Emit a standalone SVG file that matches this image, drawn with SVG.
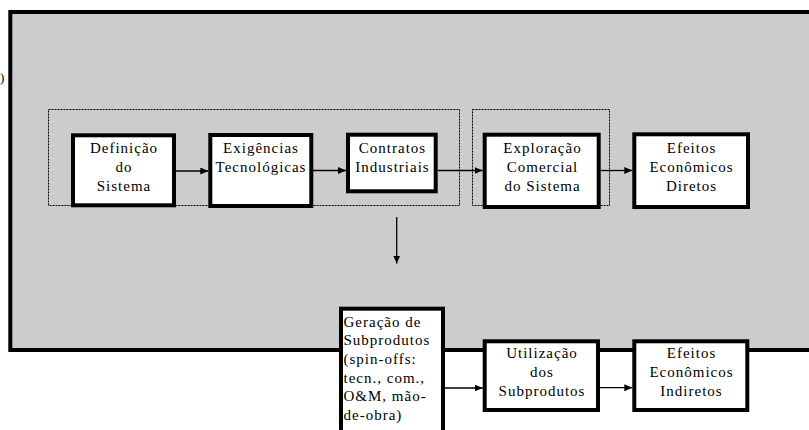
<svg xmlns="http://www.w3.org/2000/svg" width="809" height="430" viewBox="0 0 809 430">
<style>
.node rect{fill:#fff;stroke:#000;stroke-width:4}
text{font-family:'Liberation Serif','Times New Roman',serif;font-size:15px;fill:#000;letter-spacing:1px}
.c{text-anchor:middle}
.con line{stroke:#000;stroke-width:1.3}
.dot{fill:none;stroke:#000;stroke-width:1;stroke-dasharray:2 1}
</style>
<defs>
<marker id="ah" markerUnits="userSpaceOnUse" markerWidth="9" markerHeight="8" refX="8" refY="3.5" orient="auto">
<path d="M0,0 L8,3.5 L0,7 z" fill="#000"/>
</marker>
</defs>
<rect x="10.3" y="12" width="820" height="338" fill="#cccccc" stroke="#000" stroke-width="4"/>
<text x="0" y="82" style="font-size:13px">)</text>
<rect class="dot" x="48.5" y="109.5" width="411" height="96"/>
<rect class="dot" x="472.5" y="109.5" width="137" height="96"/>
<g id="connectors" class="con">
<line x1="176" y1="171" x2="208.3" y2="171" marker-end="url(#ah)"/>
<line x1="312" y1="170.5" x2="346" y2="170.5" marker-end="url(#ah)"/>
<line x1="438" y1="170.5" x2="482.7" y2="170.5" marker-end="url(#ah)"/>
<line x1="601" y1="170.5" x2="632.3" y2="170.5" marker-end="url(#ah)"/>
<line x1="396.7" y1="217" x2="396.7" y2="263.5" marker-end="url(#ah)"/>
<line x1="445" y1="388" x2="482.7" y2="388" marker-end="url(#ah)"/>
<line x1="600" y1="387.7" x2="632.3" y2="387.7" marker-end="url(#ah)"/>
</g>
<g id="n1" class="node"><rect x="73" y="135.3" width="101" height="70"/>
<text class="c" x="124" y="153.3">Definição</text><text class="c" x="124" y="172">do</text><text class="c" x="124" y="190.7">Sistema</text></g>
<g id="n2" class="node"><rect x="210.3" y="135" width="101" height="71"/>
<text class="c" x="261" y="153.3">Exigências</text><text class="c" x="261" y="172">Tecnológicas</text></g>
<g id="n3" class="node"><rect x="348" y="134.7" width="87.7" height="56.6"/>
<text class="c" x="392.5" y="153.3">Contratos</text><text class="c" x="392.5" y="172">Industriais</text></g>
<g id="n4" class="node"><rect x="484.7" y="134.7" width="114" height="72.3"/>
<text class="c" x="542.5" y="153.3">Exploração</text><text class="c" x="542.5" y="172">Comercial</text><text class="c" x="542.5" y="190.7">do Sistema</text></g>
<g id="n5" class="node"><rect x="634.3" y="134.3" width="113.7" height="72.7"/>
<text class="c" x="691.5" y="153.3">Efeitos</text><text class="c" x="691.5" y="172">Econômicos</text><text class="c" x="691.5" y="190.7">Diretos</text></g>
<g id="n6" class="node"><rect x="341" y="308.7" width="102" height="140"/>
<text x="343.5" y="326.5">Geração de</text><text x="343.5" y="345.2">Subprodutos</text><text x="343.5" y="363.9">(spin-offs:</text><text x="343.5" y="382.6">tecn., com.,</text><text x="343.5" y="401.3">O&amp;M, mão-</text><text x="343.5" y="420">de-obra)</text></g>
<g id="n7" class="node"><rect x="484.7" y="341.3" width="113.3" height="68.7"/>
<text class="c" x="542" y="358.3">Utilização</text><text class="c" x="542" y="377.2">dos</text><text class="c" x="542" y="396.3">Subprodutos</text></g>
<g id="n8" class="node"><rect x="634.3" y="341.3" width="113" height="68.7"/>
<text class="c" x="691.5" y="358.3">Efeitos</text><text class="c" x="691.5" y="377.2">Econômicos</text><text class="c" x="691.5" y="396.3">Indiretos</text></g>
</svg>
